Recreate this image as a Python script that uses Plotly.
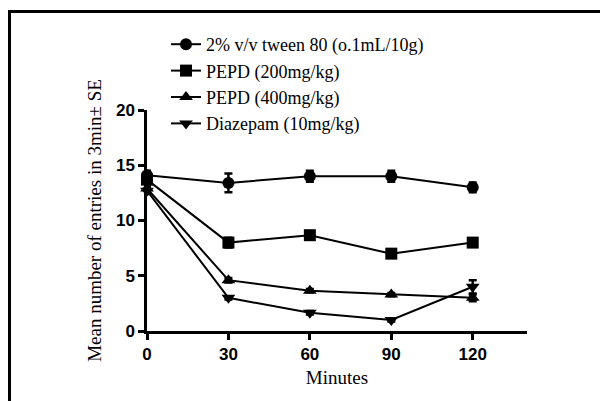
import plotly.graph_objects as go

minutes = [0, 30, 60, 90, 120]
series_names = ["2% v/v tween 80 (o.1mL/10g)", "PEPD (200mg/kg)", "PEPD (400mg/kg)", "Diazepam (10mg/kg)"]
tween = [14.1, 13.4, 14.0, 14.0, 13.0]
tween_se = [0.4, 0.85, 0.5, 0.5, 0.45]
pepd200 = [13.7, 8.0, 8.67, 7.0, 8.0]
pepd200_se = [0.6, 0.45, 0.25, 0.2, 0.25]
pepd400 = [12.9, 4.6, 3.65, 3.3, 3.0]
pepd400_se = [0.3, 0.2, 0.15, 0.15, 0.3]
diazepam = [12.7, 3.0, 1.65, 1.0, 4.0]
diazepam_se = [0.3, 0.15, 0.15, 0.15, 0.6]
symbols = ["circle", "square", "triangle-up", "triangle-down"]

OFF = 8  # browser default body margin
W, H = 608 - OFF, 401 - OFF
ML, MR, MT, MB = 147 - OFF, 81, 110 - OFF, 70
PW, PH = W - ML - MR, H - MT - MB

def px_x(p):
    return (p - OFF - ML) / PW

def px_y(p):
    return (H + OFF - MB - p) / PH

fig = go.Figure()
for name, vals, se, sym in zip(series_names, [tween, pepd200, pepd400, diazepam],
                               [tween_se, pepd200_se, pepd400_se, diazepam_se], symbols):
    fig.add_trace(go.Scatter(
        x=minutes, y=vals, name=name, mode="lines+markers",
        line=dict(color="black", width=2),
        marker=dict(symbol=sym, size=12, color="black"),
        error_y=dict(type="data", array=se, visible=True, color="black", thickness=2.5, width=4),
        cliponaxis=False,
    ))

# page frame (left and top rules)
fig.add_shape(type="line", xref="paper", yref="paper",
              x0=px_x(9.5), x1=px_x(9.5), y0=px_y(11.5), y1=px_y(420),
              line=dict(color="black", width=3))
fig.add_shape(type="line", xref="paper", yref="paper",
              x0=px_x(8), x1=px_x(620), y0=px_y(11.5), y1=px_y(11.5),
              line=dict(color="black", width=3))

fig.update_layout(
    width=W, height=H,
    margin=dict(l=ML, r=MR, t=MT, b=MB),
    paper_bgcolor="white", plot_bgcolor="white",
    font=dict(family="Liberation Serif", color="black", size=18),
    showlegend=True,
    legend=dict(x=px_x(166), y=px_y(26), xanchor="left", yanchor="top",
                font=dict(family="Liberation Serif", size=18, color="black"),
                bgcolor="rgba(0,0,0,0)", tracegroupgap=0),
    xaxis=dict(range=[0, 140], tickvals=[0, 30, 60, 90, 120], showgrid=False, zeroline=False,
               showline=True, linecolor="black", linewidth=2.5, ticks="outside", ticklen=6,
               tickwidth=2.5, tickcolor="black",
               tickfont=dict(family="Liberation Sans", size=17, color="black", weight="bold"),
               title=dict(text="Minutes", font=dict(family="Liberation Serif", size=19), standoff=8)),
    yaxis=dict(range=[0, 20], tickvals=[0, 5, 10, 15, 20], showgrid=False, zeroline=False,
               showline=True, linecolor="black", linewidth=2.5, ticks="outside", ticklen=6,
               tickwidth=2.5, tickcolor="black",
               tickfont=dict(family="Liberation Sans", size=17, color="black", weight="bold"),
               title=dict(text="Mean number of entries in 3min± SE",
                          font=dict(family="Liberation Serif", size=19), standoff=10)),
)

fig.write_html("out.html")
